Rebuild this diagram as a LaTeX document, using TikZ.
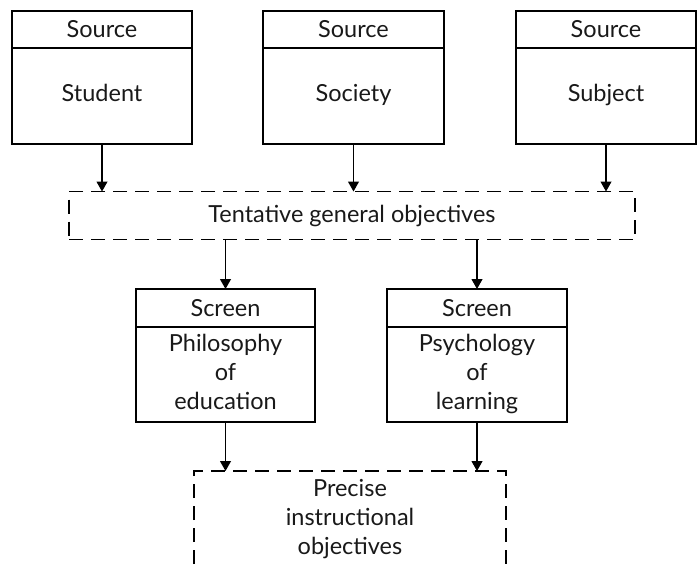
\documentclass[tikz,border=0pt]{standalone}
\usepackage{fontspec}
\setmainfont{Lato}
\usetikzlibrary{arrows.meta,calc}
\begin{document}
\begin{tikzpicture}[x=1pt,y=-1pt,
  every node/.style={font=\fontsize{23.5}{29}\selectfont, text=black!90, inner sep=0pt, outer sep=0pt},
  hbox/.style={draw, line width=1.1pt, rectangle, minimum width=#1, minimum height=37pt, anchor=north},
  bbox/.style={draw, line width=1.1pt, rectangle, minimum width=#1, anchor=north, align=center},
  dbox/.style={draw, line width=1.1pt, dash pattern=on 14pt off 8pt, rectangle},
  arr/.style={line width=1.1pt, -{Triangle[length=10pt,width=11pt]}},
  dln/.style={line width=1.1pt, dash pattern=on 14pt off 8pt}
]
\useasboundingbox (0,0) rectangle (700,564);
% top sources
\node[hbox=180pt] (h1) at (102,11) {Source};
\node[bbox=180pt, minimum height=96pt] (b1) at (h1.south) {\strut Student};
\node[hbox=181pt] (h2) at (353.5,11) {Source};
\node[bbox=181pt, minimum height=96pt] (b2) at (h2.south) {\strut Society};
\node[hbox=180pt] (h3) at (606,11) {Source};
\node[bbox=180pt, minimum height=96pt] (b3) at (h3.south) {\strut Subject};
% tentative
\node[dbox, minimum width=566pt, minimum height=48pt] (tent) at (352,215.5) {Tentative general objectives};
% screens
\node[hbox=179pt, minimum height=38pt] (s1) at (225.5,289) {Screen};
\node[bbox=179pt, minimum height=95pt] (p1) at (s1.south) {\strut Philosophy\\\strut of\\\strut education};
\node[hbox=180pt, minimum height=38pt] (s2) at (477,289) {Screen};
\node[bbox=180pt, minimum height=95pt] (p2) at (s2.south) {\strut Psychology\\\strut of\\\strut learning};
% precise
\node[align=center, minimum width=312pt, minimum height=93pt, anchor=north] (prec) at (350,471) {};
\node[align=center] (prectext) at ($(prec.center)+(0,2)$) {\strut Precise\\\strut instructional\\\strut objectives};
\draw[dln] (prec.south west) -- (prec.north west) -- (prec.north east) -- (prec.south east);
% arrows
\draw[arr] (b1.south) -- (b1.south |- tent.north);
\draw[arr] (b2.south) -- (b2.south |- tent.north);
\draw[arr] (b3.south) -- (b3.south |- tent.north);
\draw[arr] (tent.south -| s1.north) -- (s1.north);
\draw[arr] (tent.south -| s2.north) -- (s2.north);
\draw[arr] (p1.south) -- (p1.south |- prec.north);
\draw[arr] (p2.south) -- (p2.south |- prec.north);
\end{tikzpicture}
\end{document}
